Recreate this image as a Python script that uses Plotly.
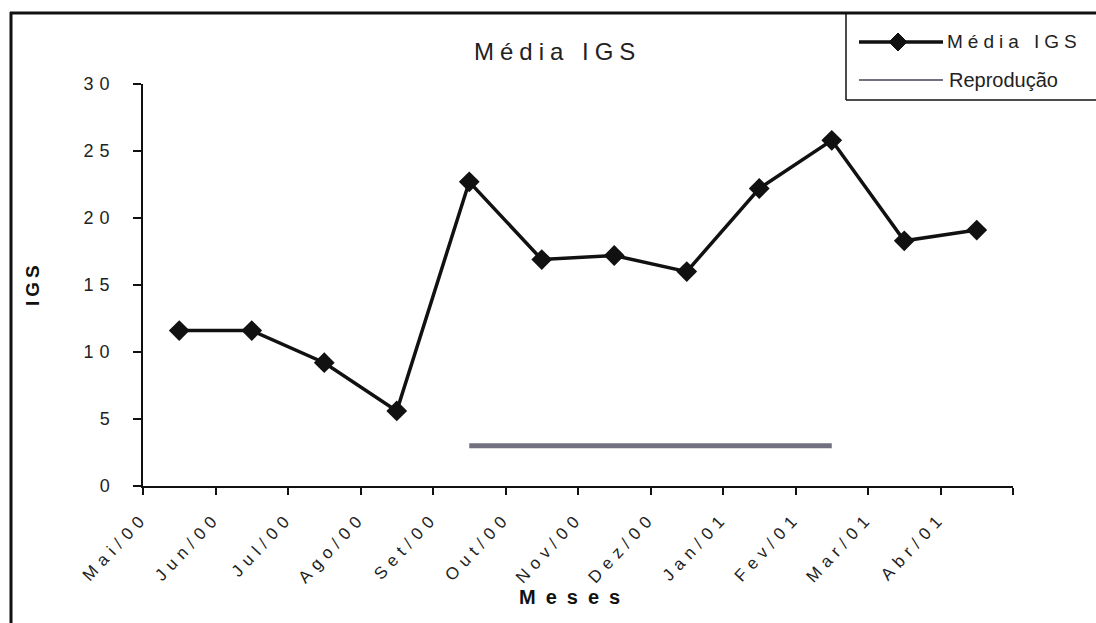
import plotly.graph_objects as go

# ---- data ----
meses = ["Mai/00", "Jun/00", "Jul/00", "Ago/00", "Set/00", "Out/00",
         "Nov/00", "Dez/00", "Jan/01", "Fev/01", "Mar/01", "Abr/01"]
media_igs = [11.6, 11.6, 9.2, 5.6, 22.7, 16.9, 17.2, 16.0, 22.2, 25.8, 18.3, 19.1]
reproducao = [None, None, None, None, 3, 3, 3, 3, 3, 3, None, None]
y_ticks = [0, 5, 10, 15, 20, 25, 30]

# ---- layout helpers (pixel -> paper) ----
W, H = 1096, 623
L, R, T, B = 143, 1013, 84, 486


def px(x):
    return (x - L) / (R - L)


def py(y):
    return (B - y) / (B - T)


def sp(txt, s):
    return f'<span style="letter-spacing:{s}px">{txt}</span>'


FONT = "Liberation Sans, Arial, sans-serif"
x_pos = [i + 0.5 for i in range(len(meses))]

fig = go.Figure()
fig.add_trace(go.Scatter(
    x=x_pos, y=reproducao, mode="lines", name="Reprodução",
    line=dict(color="#707080", width=5), showlegend=False))
fig.add_trace(go.Scatter(
    x=x_pos, y=media_igs, mode="lines+markers", name="Média IGS",
    line=dict(color="#111111", width=3.5),
    marker=dict(symbol="diamond", size=16, color="#111111"),
    showlegend=False))

fig.update_layout(
    width=W, height=H,
    margin=dict(l=L, r=W - R, t=T, b=H - B),
    paper_bgcolor="white", plot_bgcolor="white",
    font=dict(family=FONT, color="#222"),
    xaxis=dict(
        range=[0, len(meses)], tickmode="array",
        tickvals=list(range(len(meses) + 1)),
        ticktext=[sp(m, 6) for m in meses] + [""],
        tickangle=-47, ticks="outside", ticklen=7, tickwidth=1.5,
        tickcolor="#111", showline=True, linecolor="#111", linewidth=1.5,
        showgrid=False, zeroline=False, ticklabelstandoff=6,
        tickfont=dict(size=17, family=FONT, color="#222")),
    yaxis=dict(
        range=[0, 30], tickmode="array", tickvals=y_ticks,
        ticktext=[sp(str(v), 6) for v in y_ticks],
        ticks="outside", ticklen=8, tickwidth=1.5, tickcolor="#111",
        showline=True, linecolor="#111", linewidth=1.5,
        showgrid=False, zeroline=False, ticklabelstandoff=14,
        tickfont=dict(size=18, family=FONT, color="#222")),
)

annotations = [
    dict(x=px(557), y=py(52), text=sp("Média IGS", 6),
         font=dict(size=24, family=FONT, color="#222")),
    dict(x=px(574), y=py(597), text=sp("<b>Meses</b>", 10),
         font=dict(size=20, family=FONT, color="#111")),
    dict(x=px(32), y=py(284), text=sp("<b>IGS</b>", 4), textangle=-90,
         font=dict(size=19, family=FONT, color="#111")),
    dict(x=px(945), y=py(41), text=sp("Média IGS", 5), xanchor="left",
         font=dict(size=19, family=FONT, color="#222")),
    dict(x=px(947), y=py(80), text="Reprodução", xanchor="left",
         font=dict(size=20, family=FONT, color="#222")),
]
for a in annotations:
    a.update(xref="paper", yref="paper", showarrow=False)
    a.setdefault("xanchor", "center")
    a["yanchor"] = "middle"
fig.update_layout(annotations=annotations)

shapes = [
    # outer frame (top and left only)
    dict(type="line", x0=px(10), x1=px(1096), y0=py(13), y1=py(13),
         line=dict(color="#111", width=3)),
    dict(type="line", x0=px(11), x1=px(11), y0=py(12), y1=py(623),
         line=dict(color="#111", width=3)),
    # legend box
    dict(type="line", x0=px(846), x1=px(846), y0=py(13), y1=py(100),
         line=dict(color="#111", width=1.5)),
    dict(type="line", x0=px(846), x1=px(1096), y0=py(100), y1=py(100),
         line=dict(color="#111", width=1.5)),
    # legend samples
    dict(type="line", x0=px(859), x1=px(943), y0=py(42), y1=py(42),
         line=dict(color="#111", width=3.5)),
    dict(type="path",
         path=f"M {px(889)},{py(42)} L {px(898)},{py(33)} L {px(907)},{py(42)} L {px(898)},{py(51)} Z",
         fillcolor="#111", line=dict(color="#111", width=1)),
    dict(type="line", x0=px(859), x1=px(943), y0=py(80), y1=py(80),
         line=dict(color="#707080", width=2)),
]
for s in shapes:
    s.update(xref="paper", yref="paper", layer="above")
fig.update_layout(shapes=shapes)

fig.write_html("out.html", config={"displayModeBar": False},
               post_script="document.body.style.margin='0';")
